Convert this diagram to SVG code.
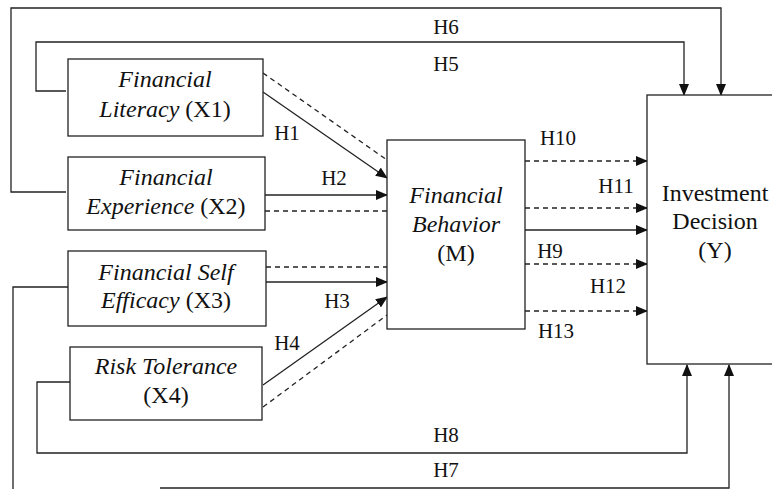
<svg xmlns="http://www.w3.org/2000/svg" width="772" height="489" viewBox="0 0 772 489">
  <style>
    .box { fill: #fff; stroke: #222; stroke-width: 1.3; }
    .ln { fill: none; stroke: #222; stroke-width: 1.3; }
    .dash { fill: none; stroke: #222; stroke-width: 1.3; stroke-dasharray: 5 4; }
    text { font-family: 'Liberation Serif', 'DejaVu Serif', serif; }
    .t { font-size: 24px; fill: #111; text-anchor: middle; }
    .i { font-style: italic; }
    .lab { font-size: 21px; fill: #111; text-anchor: middle; }
  </style>
  <defs>
    <marker id="ah" markerUnits="userSpaceOnUse" markerWidth="12" markerHeight="10" refX="11" refY="5" orient="auto">
      <path d="M0,0 L12,5 L0,10 Z" fill="#111"/>
    </marker>
  </defs>
  <rect width="772" height="489" fill="#fff"/>

  <g id="connectors">
    <path class="ln" d="M66 192 H11 V8 H721 V95" marker-end="url(#ah)"/>
    <path class="ln" d="M66 91 H36 V42 H684 V95" marker-end="url(#ah)"/>
    <path class="ln" d="M70 382 H37 V453 H687 V365" marker-end="url(#ah)"/>
    <path class="ln" d="M68 287 H13 V489"/>
    <path class="ln" d="M160 488 H729 V365" marker-end="url(#ah)"/>

    <path class="ln" d="M263 92 L387 178" marker-end="url(#ah)"/>
    <path class="dash" d="M263 73 L387 160"/>
    <path class="ln" d="M265 195 H387" marker-end="url(#ah)"/>
    <path class="dash" d="M265 211 H387"/>
    <path class="dash" d="M266 267 H387"/>
    <path class="ln" d="M266 282 H387" marker-end="url(#ah)"/>
    <path class="ln" d="M263 385 L387 297" marker-end="url(#ah)"/>
    <path class="dash" d="M263 407 L387 315"/>

    <path class="dash" d="M525 161 H647" marker-end="url(#ah)"/>
    <path class="dash" d="M525 208 H647" marker-end="url(#ah)"/>
    <path class="ln" d="M525 230 H647" marker-end="url(#ah)"/>
    <path class="dash" d="M525 264 H647" marker-end="url(#ah)"/>
    <path class="dash" d="M525 311 H647" marker-end="url(#ah)"/>

    <text class="lab" x="446" y="34">H6</text>
    <text class="lab" x="446" y="71">H5</text>
    <text class="lab" x="287" y="140">H1</text>
    <text class="lab" x="334" y="185">H2</text>
    <text class="lab" x="337" y="308">H3</text>
    <text class="lab" x="287" y="350">H4</text>
    <text class="lab" x="558" y="145">H10</text>
    <text class="lab" x="616" y="193">H11</text>
    <text class="lab" x="550" y="258">H9</text>
    <text class="lab" x="608" y="293">H12</text>
    <text class="lab" x="556" y="338">H13</text>
    <text class="lab" x="446" y="442">H8</text>
    <text class="lab" x="446" y="477">H7</text>
  </g>

  <g id="X1">
    <rect class="box" x="68" y="59" width="195" height="77"/>
    <text class="t" x="165" y="87"><tspan class="i">Financial</tspan></text>
    <text class="t" x="165" y="117"><tspan class="i">Literacy</tspan> (X1)</text>
  </g>
  <g id="X2">
    <rect class="box" x="68" y="157" width="197" height="73"/>
    <text class="t" x="166" y="185"><tspan class="i">Financial</tspan></text>
    <text class="t" x="166" y="214"><tspan class="i">Experience</tspan> (X2)</text>
  </g>
  <g id="X3">
    <rect class="box" x="68" y="251" width="198" height="75"/>
    <text class="t" x="166" y="280"><tspan class="i">Financial Self</tspan></text>
    <text class="t" x="166" y="308"><tspan class="i">Efficacy</tspan> (X3)</text>
  </g>
  <g id="X4">
    <rect class="box" x="70" y="347" width="192" height="73"/>
    <text class="t" x="166" y="374"><tspan class="i">Risk Tolerance</tspan></text>
    <text class="t" x="166" y="403">(X4)</text>
  </g>
  <g id="M">
    <rect class="box" x="387" y="140" width="138" height="189"/>
    <text class="t" x="456" y="203"><tspan class="i">Financial</tspan></text>
    <text class="t" x="456" y="232"><tspan class="i">Behavior</tspan></text>
    <text class="t" x="456" y="261">(M)</text>
  </g>
  <g id="Y">
    <rect class="box" x="647" y="95" width="140" height="269"/>
    <text class="t" x="715" y="201">Investment</text>
    <text class="t" x="715" y="229">Decision</text>
    <text class="t" x="715" y="258">(Y)</text>
  </g>
</svg>
